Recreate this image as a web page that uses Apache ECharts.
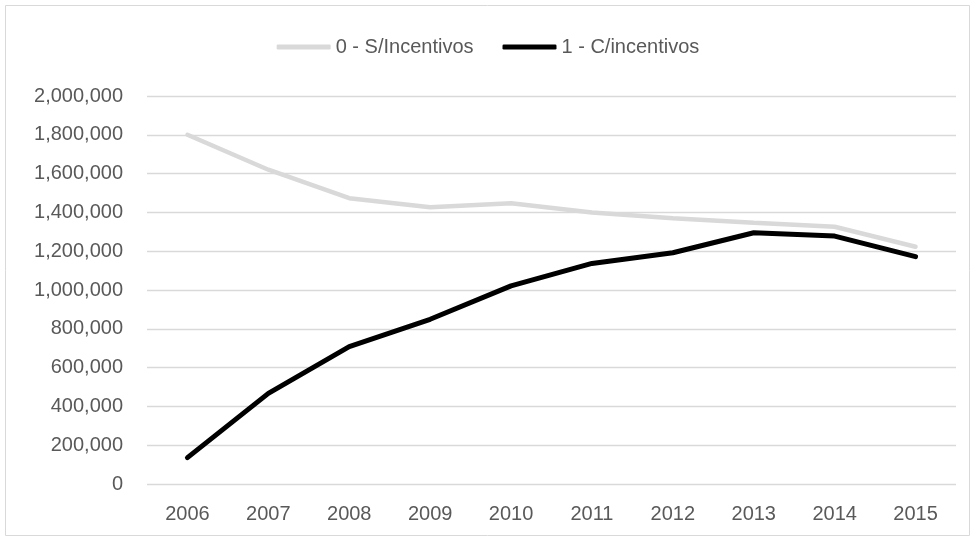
<!DOCTYPE html>
<html>
<head>
<meta charset="utf-8">
<script src="https://cdn.jsdelivr.net/npm/echarts@6/dist/echarts.min.js"></script>
<style>
  html, body { margin: 0; padding: 0; background: #fff; }
  #main { width: 976px; height: 540px; }
</style>
</head>
<body>
<div id="main"></div>
<script>
const years = ['2006', '2007', '2008', '2009', '2010', '2011', '2012', '2013', '2014', '2015'];
const semIncentivos = [1800000, 1620000, 1473000, 1426000, 1447000, 1399000, 1370000, 1347000, 1326000, 1223000];
const comIncentivos = [136000, 467000, 708000, 849000, 1021000, 1137000, 1192000, 1295000, 1278000, 1172000];
const seriesNames = ['0 - S/Incentivos', '1 - C/incentivos'];

const chart = echarts.init(document.getElementById('main'), null, { renderer: 'canvas' });

const font = 'Liberation Sans';

const option = {
  animation: false,
  backgroundColor: '#fff',
  color: ['#d9d9d9', '#000000'],
  graphic: [{
    type: 'rect',
    shape: { x: 5.5, y: 5.5, width: 964, height: 530 },
    style: { fill: 'none', stroke: '#d9d9d9', lineWidth: 1 },
    silent: true
  }],
  legend: {
    data: seriesNames,
    top: 32,
    left: 'center',
    icon: 'roundRect',
    itemWidth: 54,
    itemHeight: 5,
    itemGap: 29,
    textStyle: { fontFamily: font, fontSize: 20, color: '#595959' }
  },
  grid: {
    left: 147,
    right: 20,
    top: 96,
    bottom: 56
  },
  xAxis: {
    type: 'category',
    data: years,
    boundaryGap: true,
    axisLine: { show: false },
    axisTick: { show: false },
    axisLabel: { fontFamily: font, fontSize: 20, color: '#595959', margin: 20 }
  },
  yAxis: {
    type: 'value',
    min: 0,
    max: 2000000,
    interval: 200000,
    axisLine: { show: false },
    axisTick: { show: false },
    axisLabel: {
      fontFamily: font,
      fontSize: 20,
      color: '#595959',
      margin: 24,
      formatter: function (v) { return v.toLocaleString('en-US'); }
    },
    splitLine: { lineStyle: { color: '#d9d9d9', width: 1.3 } }
  },
  series: [{
    name: seriesNames[0],
    type: 'line',
    symbol: 'none',
    data: semIncentivos,
    lineStyle: { width: 4.5, color: '#d9d9d9', cap: 'round' },
    itemStyle: { color: '#d9d9d9' }
  }, {
    name: seriesNames[1],
    type: 'line',
    symbol: 'none',
    data: comIncentivos,
    lineStyle: { width: 5, color: '#000000', cap: 'round' },
    itemStyle: { color: '#000000' }
  }]
};

chart.setOption(option);
</script>
</body>
</html>
